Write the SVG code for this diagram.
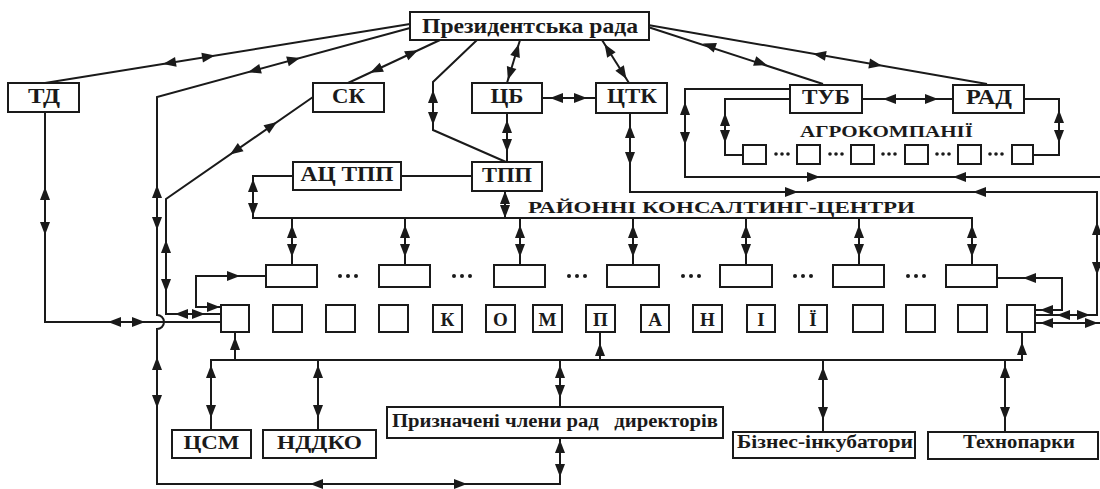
<svg xmlns="http://www.w3.org/2000/svg" width="1100" height="489" viewBox="0 0 1100 489">
<style>
.b{fill:#fff;stroke:#1a1a1a;stroke-width:2}
.c{fill:none;stroke:#1a1a1a;stroke-width:2;stroke-linejoin:miter}
.t{font-family:"Liberation Serif","Times New Roman",serif;font-weight:bold;fill:#1a1a1a;text-anchor:middle}
.d{fill:#1a1a1a}
</style>
<defs>
<path id="ah" d="M0,0 L-13,-5 L-13,5 Z" fill="#1a1a1a"/>
</defs>
<rect width="1100" height="489" fill="#fff"/>

<g id="connectors">
<path class="c" d="M410,24 L45,83"/>
<path class="c" d="M410,28 L157,97 V315 A7,7 0 0 1 157,329 V484 H560 V438"/>
<path class="c" d="M440,40 L348,83"/>
<path class="c" d="M313,97 L166,199 V314 H221"/>
<path class="c" d="M45,112 V322 H221"/>
<path class="c" d="M221,307 H196 V276 H266"/>
<path class="c" d="M520,40 L507,83"/>
<path class="c" d="M602,40 L629,83"/>
<path class="c" d="M477,40 L433,82 V130 L506,162"/>
<path class="c" d="M542,98 H596"/>
<path class="c" d="M507,113 V162"/>
<path class="c" d="M401,176 H472"/>
<path class="c" d="M648,27 L823,84"/>
<path class="c" d="M648,25 L987,84"/>
<path class="c" d="M862,99 H953"/>
<path class="c" d="M790,89 H685 V177 H1100"/>
<path class="c" d="M790,99 H725 V155 H743"/>
<path class="c" d="M1033,155 H1059 V99 H1024"/>
<path class="c" d="M630,113 V192 H1097 V315 H1035"/>
<path class="c" d="M997,278 H1062 V310 H1035"/>
<path class="c" d="M1035,323 H1100"/>
<path class="c" d="M293,176 H253 V218 H972 V265"/>
<path class="c" d="M505,191 V218 M292,218 V265 M405,218 V265 M520,218 V265 M633,218 V265 M746,218 V265 M859,218 V265"/>
<path class="c" d="M211,430 V360 H1022 V332 M235,360 V331 M600,360 V332 M318,360 V430 M560,360 V407 M823,360 V432 M1005,360 V432"/>

<!-- slanted arrows -->
<use href="#ah" transform="translate(163,63.9) rotate(170.8)"/>
<use href="#ah" transform="translate(215,55.5) rotate(-9.2)"/>
<use href="#ah" transform="translate(248,72.2) rotate(164.7)"/>
<use href="#ah" transform="translate(300,58) rotate(-15.3)"/>
<use href="#ah" transform="translate(370,72.7) rotate(155)"/>
<use href="#ah" transform="translate(418,50.3) rotate(-25)"/>
<use href="#ah" transform="translate(277,122) rotate(-34.8)"/>
<use href="#ah" transform="translate(230,154.6) rotate(145.2)"/>
<use href="#ah" transform="translate(518.8,44) rotate(-73.2)"/>
<use href="#ah" transform="translate(507.9,80) rotate(106.8)"/>
<use href="#ah" transform="translate(604.5,44) rotate(-122.1)"/>
<use href="#ah" transform="translate(626.5,79) rotate(57.9)"/>
<use href="#ah" transform="translate(703,43.5) rotate(198.6)"/>
<use href="#ah" transform="translate(767,65.1) rotate(18.6)"/>
<use href="#ah" transform="translate(813,53.7) rotate(189.9)"/>
<use href="#ah" transform="translate(882,65.7) rotate(9.9)"/>

<!-- vertical double arrows -->
<use href="#ah" transform="translate(45,187) rotate(-90)"/><use href="#ah" transform="translate(45,235) rotate(90)"/>
<use href="#ah" transform="translate(157,185) rotate(-90)"/><use href="#ah" transform="translate(157,230) rotate(90)"/>
<use href="#ah" transform="translate(166,240) rotate(-90)"/><use href="#ah" transform="translate(166,292) rotate(90)"/>
<use href="#ah" transform="translate(253,179) rotate(-90)"/><use href="#ah" transform="translate(253,216) rotate(90)"/>
<use href="#ah" transform="translate(292,225) rotate(-90)"/><use href="#ah" transform="translate(292,257) rotate(90)"/>
<use href="#ah" transform="translate(405,225) rotate(-90)"/><use href="#ah" transform="translate(405,257) rotate(90)"/>
<use href="#ah" transform="translate(520,225) rotate(-90)"/><use href="#ah" transform="translate(520,257) rotate(90)"/>
<use href="#ah" transform="translate(633,225) rotate(-90)"/><use href="#ah" transform="translate(633,257) rotate(90)"/>
<use href="#ah" transform="translate(746,225) rotate(-90)"/><use href="#ah" transform="translate(746,257) rotate(90)"/>
<use href="#ah" transform="translate(859,225) rotate(-90)"/><use href="#ah" transform="translate(859,257) rotate(90)"/>
<use href="#ah" transform="translate(972,225) rotate(-90)"/><use href="#ah" transform="translate(972,257) rotate(90)"/>
<use href="#ah" transform="translate(505,191) rotate(-90)"/><use href="#ah" transform="translate(505,218) rotate(90)"/>
<use href="#ah" transform="translate(507,120) rotate(-90)"/><use href="#ah" transform="translate(507,152) rotate(90)"/>
<use href="#ah" transform="translate(433,90) rotate(-90)"/><use href="#ah" transform="translate(433,125) rotate(90)"/>
<use href="#ah" transform="translate(630,125) rotate(-90)"/><use href="#ah" transform="translate(630,165) rotate(90)"/>
<use href="#ah" transform="translate(685,102) rotate(-90)"/><use href="#ah" transform="translate(685,145) rotate(90)"/>
<use href="#ah" transform="translate(725,113) rotate(-90)"/><use href="#ah" transform="translate(725,143) rotate(90)"/>
<use href="#ah" transform="translate(1059,110) rotate(-90)"/><use href="#ah" transform="translate(1059,143) rotate(90)"/>
<use href="#ah" transform="translate(1097,222) rotate(-90)"/><use href="#ah" transform="translate(1097,275) rotate(90)"/>
<use href="#ah" transform="translate(157,357) rotate(-90)"/><use href="#ah" transform="translate(157,408) rotate(90)"/>
<use href="#ah" transform="translate(211,365) rotate(-90)"/><use href="#ah" transform="translate(211,418) rotate(90)"/>
<use href="#ah" transform="translate(318,365) rotate(-90)"/><use href="#ah" transform="translate(318,418) rotate(90)"/>
<use href="#ah" transform="translate(560,365) rotate(-90)"/><use href="#ah" transform="translate(560,398) rotate(90)"/>
<use href="#ah" transform="translate(560,440) rotate(-90)"/><use href="#ah" transform="translate(560,477) rotate(90)"/>
<use href="#ah" transform="translate(823,367) rotate(-90)"/><use href="#ah" transform="translate(823,420) rotate(90)"/>
<use href="#ah" transform="translate(1005,365) rotate(-90)"/><use href="#ah" transform="translate(1005,420) rotate(90)"/>
<use href="#ah" transform="translate(235,337) rotate(-90)"/>
<use href="#ah" transform="translate(600,343) rotate(-90)"/>
<use href="#ah" transform="translate(1022,342) rotate(-90)"/>

<!-- horizontal arrows -->
<use href="#ah" transform="translate(108,322) rotate(180)"/><use href="#ah" transform="translate(145,322)"/>
<use href="#ah" transform="translate(175,314) rotate(180)"/><use href="#ah" transform="translate(205,314)"/>
<use href="#ah" transform="translate(220,307)"/>
<use href="#ah" transform="translate(240,276)"/>
<use href="#ah" transform="translate(550,98) rotate(180)"/><use href="#ah" transform="translate(587,98)"/>
<use href="#ah" transform="translate(883,99) rotate(180)"/><use href="#ah" transform="translate(938,99)"/>
<use href="#ah" transform="translate(820,177)"/><use href="#ah" transform="translate(953,177) rotate(180)"/>
<use href="#ah" transform="translate(798,192)"/><use href="#ah" transform="translate(973,192) rotate(180)"/>
<use href="#ah" transform="translate(1023,278) rotate(180)"/>
<use href="#ah" transform="translate(1040,310) rotate(180)"/>
<use href="#ah" transform="translate(1057,315) rotate(180)"/><use href="#ah" transform="translate(1090,315)"/>
<use href="#ah" transform="translate(1040,323) rotate(180)"/><use href="#ah" transform="translate(1098,323)"/>
<use href="#ah" transform="translate(310,484) rotate(180)"/><use href="#ah" transform="translate(467,484)"/>
</g>

<g id="pres"><rect class="b" x="410" y="12" width="239" height="28"/><text class="t" x="530" y="33" font-size="21" textLength="216" lengthAdjust="spacingAndGlyphs">Президентська рада</text></g>
<g id="td"><rect class="b" x="8" y="83" width="71" height="29"/><text class="t" x="44" y="103" font-size="21" textLength="32" lengthAdjust="spacingAndGlyphs">ТД</text></g>
<g id="sk"><rect class="b" x="313" y="83" width="71" height="29"/><text class="t" x="348.5" y="103" font-size="21" textLength="33" lengthAdjust="spacingAndGlyphs">СК</text></g>
<g id="cb"><rect class="b" x="472" y="83" width="70" height="30"/><text class="t" x="507" y="103" font-size="21" textLength="33" lengthAdjust="spacingAndGlyphs">ЦБ</text></g>
<g id="ctk"><rect class="b" x="596" y="83" width="71" height="30"/><text class="t" x="632" y="103" font-size="21" textLength="50" lengthAdjust="spacingAndGlyphs">ЦТК</text></g>
<g id="tpp"><rect class="b" x="472" y="162" width="70" height="29"/><text class="t" x="507" y="182" font-size="21" textLength="50" lengthAdjust="spacingAndGlyphs">ТПП</text></g>
<g id="actpp"><rect class="b" x="293" y="162" width="108" height="28"/><text class="t" x="347" y="181" font-size="21" textLength="93" lengthAdjust="spacingAndGlyphs">АЦ ТПП</text></g>
<g id="tub"><rect class="b" x="790" y="85" width="72" height="28"/><text class="t" x="826" y="104" font-size="21" textLength="48" lengthAdjust="spacingAndGlyphs">ТУБ</text></g>
<g id="rad"><rect class="b" x="953" y="85" width="71" height="28"/><text class="t" x="989" y="104" font-size="21" textLength="46" lengthAdjust="spacingAndGlyphs">РАД</text></g>

<g id="agro">
<text class="t" x="886.5" y="137" font-size="17" textLength="173" lengthAdjust="spacingAndGlyphs">АГРОКОМПАНІЇ</text>
<rect class="b" x="743" y="145" width="23" height="19"/>
<rect class="b" x="797" y="145" width="23" height="19"/>
<rect class="b" x="851" y="145" width="23" height="19"/>
<rect class="b" x="905" y="145" width="23" height="19"/>
<rect class="b" x="958" y="145" width="23" height="19"/>
<rect class="b" x="1012" y="145" width="21" height="19"/>
<g class="d">
<circle cx="776" cy="154" r="1.8"/><circle cx="782" cy="154" r="1.8"/><circle cx="788" cy="154" r="1.8"/>
<circle cx="830" cy="154" r="1.8"/><circle cx="836" cy="154" r="1.8"/><circle cx="842" cy="154" r="1.8"/>
<circle cx="883" cy="154" r="1.8"/><circle cx="889" cy="154" r="1.8"/><circle cx="895" cy="154" r="1.8"/>
<circle cx="937" cy="154" r="1.8"/><circle cx="943" cy="154" r="1.8"/><circle cx="949" cy="154" r="1.8"/>
<circle cx="990" cy="154" r="1.8"/><circle cx="996" cy="154" r="1.8"/><circle cx="1002" cy="154" r="1.8"/>
</g>
</g>

<g id="consulting">
<text class="t" x="721.5" y="213" font-size="17" textLength="387" lengthAdjust="spacingAndGlyphs">РАЙОННІ КОНСАЛТИНГ-ЦЕНТРИ</text>
<rect class="b" x="266" y="265" width="51" height="22"/>
<rect class="b" x="379" y="265" width="51" height="22"/>
<rect class="b" x="494" y="265" width="51" height="22"/>
<rect class="b" x="607" y="265" width="52" height="22"/>
<rect class="b" x="720" y="265" width="52" height="22"/>
<rect class="b" x="833" y="265" width="51" height="22"/>
<rect class="b" x="946" y="265" width="51" height="22"/>
<g class="d">
<circle cx="340" cy="276" r="2"/><circle cx="348" cy="276" r="2"/><circle cx="356" cy="276" r="2"/>
<circle cx="454" cy="276" r="2"/><circle cx="462" cy="276" r="2"/><circle cx="470" cy="276" r="2"/>
<circle cx="569" cy="276" r="2"/><circle cx="577" cy="276" r="2"/><circle cx="585" cy="276" r="2"/>
<circle cx="683" cy="276" r="2"/><circle cx="691" cy="276" r="2"/><circle cx="699" cy="276" r="2"/>
<circle cx="795" cy="276" r="2"/><circle cx="803" cy="276" r="2"/><circle cx="811" cy="276" r="2"/>
<circle cx="908" cy="276" r="2"/><circle cx="916" cy="276" r="2"/><circle cx="924" cy="276" r="2"/>
</g>
</g>

<g id="companies">
<rect class="b" x="221" y="305" width="28" height="27"/>
<rect class="b" x="273" y="305" width="29" height="27"/>
<rect class="b" x="326" y="305" width="29" height="27"/>
<rect class="b" x="379" y="305" width="29" height="27"/>
<rect class="b" x="433" y="305" width="29" height="27"/>
<rect class="b" x="486" y="305" width="29" height="27"/>
<rect class="b" x="533" y="305" width="29" height="27"/>
<rect class="b" x="586" y="305" width="29" height="27"/>
<rect class="b" x="641" y="305" width="28" height="27"/>
<rect class="b" x="693" y="305" width="29" height="27"/>
<rect class="b" x="747" y="305" width="28" height="27"/>
<rect class="b" x="799" y="305" width="28" height="27"/>
<rect class="b" x="853" y="305" width="30" height="27"/>
<rect class="b" x="906" y="305" width="29" height="27"/>
<rect class="b" x="958" y="305" width="29" height="27"/>
<rect class="b" x="1007" y="305" width="28" height="27"/>
<text class="t" x="447.5" y="326" font-size="19">К</text>
<text class="t" x="500.5" y="326" font-size="19">О</text>
<text class="t" x="547.5" y="326" font-size="19">М</text>
<text class="t" x="600.5" y="326" font-size="19">П</text>
<text class="t" x="655" y="326" font-size="19">А</text>
<text class="t" x="707.5" y="326" font-size="19">Н</text>
<text class="t" x="761" y="326" font-size="19">І</text>
<text class="t" x="813" y="326" font-size="19">Ї</text>
</g>

<g id="csm"><rect class="b" x="172" y="430" width="79" height="28"/><text class="t" x="211.5" y="449" font-size="19" textLength="56" lengthAdjust="spacingAndGlyphs">ЦСМ</text></g>
<g id="nddko"><rect class="b" x="263" y="430" width="113" height="28"/><text class="t" x="319.5" y="449" font-size="19" textLength="85" lengthAdjust="spacingAndGlyphs">НДДКО</text></g>
<g id="pryznacheni"><rect class="b" x="387" y="407" width="336" height="31"/><text class="t" x="555" y="427" font-size="18" textLength="326" lengthAdjust="spacingAndGlyphs" xml:space="preserve">Призначені члени рад   директорів</text></g>
<g id="biznes"><rect class="b" x="733" y="432" width="182" height="26"/><text class="t" x="825" y="448" font-size="18" textLength="176" lengthAdjust="spacingAndGlyphs">Бізнес-інкубатори</text></g>
<g id="tekhnoparky"><rect class="b" x="928" y="432" width="170" height="27"/><text class="t" x="1019" y="448" font-size="18" textLength="112" lengthAdjust="spacingAndGlyphs">Технопарки</text></g>
</svg>
